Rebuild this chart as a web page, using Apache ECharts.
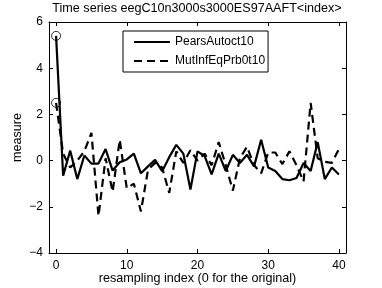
<!DOCTYPE html>
<html><head><meta charset="utf-8">
<script src="https://cdn.jsdelivr.net/npm/echarts@6/dist/echarts.min.js"></script>
<style>html,body{margin:0;padding:0;background:#fff}#c{width:382px;height:288px}</style>
</head><body><div id="c"></div>
<script>
const titleText = 'Time series eegC10n3000s3000ES97AAFT<index>';
const seriesNames = ['PearsAutoct10', 'MutInfEqPrb0t10'];
const indices = Array.from({length: 41}, (_, i) => i);
const pearsValues = [5.4, -0.65, 0.43, -0.8, 0.22, -0.13, -0.13, 0.5, -0.43, -0.07, 0.05, 0.3, -0.55, -0.25, 0.03, -0.46, 0.15, 0.68, 0.3, -1.25, 0.4, 0.2, -0.6, 0.3, -0.45, 0.25, -0.1, 0.25, -0.25, 0.9, -0.3, -0.45, -0.8, -0.85, -0.75, -0.1, -0.45, 0.8, -0.8, -0.3, -0.6];
const mutinfValues = [2.5, 0.3, -0.3, 0.0, 0.4, 1.2, -2.4, 0.1, -1.35, 0.9, -1.2, -1.0, -2.2, -0.4, -0.1, -0.3, -1.4, 0.4, -0.1, 0.45, 0.0, 0.3, -0.2, 0.8, -0.2, -1.3, 0.1, 0.6, -0.2, -0.55, 0.35, 0.35, -0.15, 0.4, -0.2, -0.9, 2.5, 0.1, -0.05, -0.1, 0.5];
const xTicks = [0, 10, 20, 30, 40];

const font = 'Liberation Sans, Arial, sans-serif';
const chart = echarts.init(document.getElementById('c'), null, {renderer: 'canvas'});
const tickStyle = {show: true, inside: true, length: 4, lineStyle: {color: '#000', width: 1}};
const axisLineStyle = {show: true, onZero: false, lineStyle: {color: '#000', width: 1}};
chart.setOption({
  animation: false,
  backgroundColor: '#fff',
  title: {text: titleText, left: 192, textAlign: 'center', top: -3,
    textStyle: {fontFamily: font, fontSize: 12.6, fontWeight: 'normal', color: '#000'}},
  grid: {left: 49, right: 36, top: 22, bottom: 35, outerBoundsMode: 'none', containLabel: false},
  legend: {orient: 'vertical', left: 123, top: 31, data: seriesNames,
    itemWidth: 36, itemHeight: 10, itemGap: 7, padding: [5, 3, 5, 10],
    borderColor: '#000', borderWidth: 1, backgroundColor: '#fff',
    itemStyle: {opacity: 0},
    textStyle: {fontFamily: font, fontSize: 12, color: '#000'}},
  xAxis: [{type: 'value', min: -1, max: 41, position: 'bottom',
    name: 'resampling index (0 for the original)', nameLocation: 'middle', nameGap: 19,
    nameMoveOverlap: false,
    nameTextStyle: {fontFamily: font, fontSize: 12.6, color: '#000'},
    axisLine: axisLineStyle,
    axisTick: Object.assign({customValues: xTicks}, tickStyle),
    axisLabel: {customValues: xTicks, fontFamily: font, fontSize: 12, color: '#000', margin: 7},
    splitLine: {show: false}},
    {type: 'value', min: -1, max: 41, position: 'top',
    axisLine: axisLineStyle,
    axisTick: Object.assign({customValues: xTicks}, tickStyle),
    axisLabel: {show: false}, splitLine: {show: false}}],
  yAxis: [{type: 'value', min: -4, max: 6, interval: 2, position: 'left',
    name: 'measure', nameLocation: 'middle', nameGap: 25,
    nameMoveOverlap: false,
    nameTextStyle: {fontFamily: font, fontSize: 12.6, color: '#000'},
    axisLine: axisLineStyle,
    axisTick: tickStyle,
    axisLabel: {fontFamily: font, fontSize: 12, color: '#000', margin: 6,
      formatter: v => (v < 0 ? '\u2212' + Math.abs(v) : String(v))},
    splitLine: {show: false}},
    {type: 'value', min: -4, max: 6, interval: 2, position: 'right',
    axisLine: axisLineStyle,
    axisTick: tickStyle, axisLabel: {show: false}, splitLine: {show: false}}],
  series: [
    {name: seriesNames[0], type: 'line', data: indices.map((x, i) => [x, pearsValues[i]]),
      symbol: 'none', showSymbol: false,
      color: '#000', lineStyle: {color: '#000', width: 2.2, type: 'solid'}, z: 3},
    {name: seriesNames[1], type: 'line', data: indices.map((x, i) => [x, mutinfValues[i]]),
      symbol: 'none', showSymbol: false,
      color: '#000', lineStyle: {color: '#000', width: 2.2, type: [8, 5]}, z: 2},
    {name: 'origin', type: 'scatter', data: [[indices[0], pearsValues[0]], [indices[0], mutinfValues[0]]],
      symbol: 'circle', symbolSize: 9, z: 4,
      itemStyle: {color: 'rgba(0,0,0,0)', borderColor: '#000', borderWidth: 1}}
  ]
});
</script></body></html>
